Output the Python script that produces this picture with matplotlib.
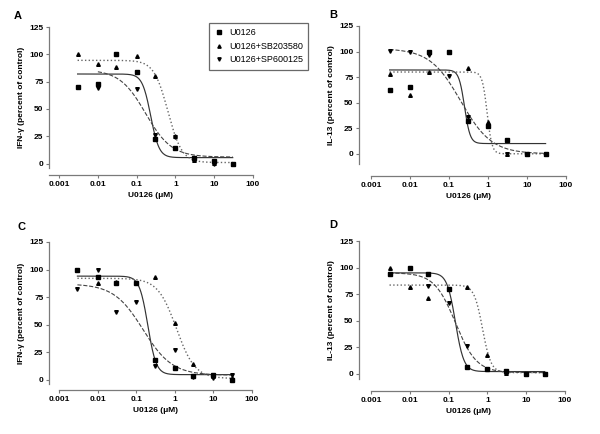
import numpy as np
import matplotlib
matplotlib.use('Agg')
import matplotlib.pyplot as plt
from matplotlib.lines import Line2D

plt.rcParams['font.family'] = ['Liberation Sans', 'DejaVu Sans']

# U0126 concentrations (uM)
conc = [0.003, 0.01, 0.03, 0.1, 0.3, 1, 3, 10, 30]
nan = np.nan

# panel A: IFN-gamma
a_u0126 = [70.5, 73, 100, 83.5, 22.5, 14.5, 5, 2, 0]
a_sb = [100, 91, 88, 98.5, 80.5, 25.5, 3, 1, 0]
a_sp = [nan, 69.5, nan, 68, 26, 24, 5, 0, 0]
# panel B: IL-13
b_u0126 = [62, 65.5, 100, 100, 32.5, 27, 13.5, 0, 0]
b_sb = [78, 57.5, 80, nan, 83.5, 31, 0, 0, 0]
b_sp = [100.5, 100, 96.5, 76.5, 35.5, 27, 0, 0, 0]
# panel C: IFN-gamma
c_u0126 = [100, 93.5, 88, 87.5, 17.5, 10.5, 3, 4.5, 0]
c_sb = [nan, 87.5, 89, nan, 93, 51, 14.5, 3, 1]
c_sp = [82, 100, 61, 70.5, 12, 27, 2, 1, 4]
# panel D: IL-13
d_u0126 = [93.5, 100, 93.5, 80, 6.5, 4.5, 3, 0, 0]
d_sb = [100, 81.5, 71, 80, 81.5, 17.5, 1, 0, 0]
d_sp = [94, nan, 83, 67, 26.5, 4, 0.5, 0, 0]

# fitted sigmoid curves: (start, top, bottom, EC50, Hill)
a_fits = [(0.003, 82, 5.5, 0.23, 4.0), (0.003, 94.5, 1, 0.64, 2.4), (0.01, 86, 6, 0.17, 1.3)]
b_fits = [(0.003, 82, 10, 0.25, 6.0), (0.003, 80, 0, 0.95, 7.0), (0.003, 103, 0, 0.2, 1.1)]
c_fits = [(0.003, 94, 4.5, 0.2, 4.0), (0.003, 92, 1, 1.1, 1.8), (0.003, 87, 4, 0.15, 1.15)]
d_fits = [(0.003, 95, 2, 0.15, 4.0), (0.003, 83.5, 1, 0.75, 4.0), (0.003, 95, 1, 0.15, 1.6)]

names = ['U0126', 'U0126+SB203580', 'U0126+SP600125']
markers = ['s', '^', 'v']
styles = [('-', '#333333', 0.85), (':', '#666666', 1.0), ('--', '#444444', 0.8)]

W, H = 600.0, 434.0


def make_axes(fig, left, right, top, bottom):
    return fig.add_axes([left / W, 1 - bottom / H, (right - left) / W, (bottom - top) / H])


def panel(ax, series, fits, ylabel, xmin, ymin, left_out, bottom_out):
    for (x0, top, bot, ec50, hill), (ls, col, lw) in zip(fits, styles):
        x = np.logspace(np.log10(x0), np.log10(30), 300)
        y = bot + (top - bot) / (1 + (x / ec50) ** hill)
        ax.plot(x, y, ls=ls, color=col, lw=lw)
    for vals, m in zip(series, markers):
        ax.plot(conc, vals, m, color='black', ms=2.6, ls='none')
    ax.set_xscale('log')
    ax.set_xlim(xmin, 100)
    ax.set_ylim(ymin, 125)
    ax.set_yticks([0, 25, 50, 75, 100, 125])
    ax.set_xticks([0.001, 0.01, 0.1, 1, 10, 100])
    ax.set_xticklabels(['0.001', '0.01', '0.1', '1', '10', '100'])
    ax.minorticks_off()
    for s in ['top', 'right']:
        ax.spines[s].set_visible(False)
    ax.spines['left'].set_position(('outward', left_out * 0.72))
    ax.spines['bottom'].set_position(('outward', bottom_out * 0.72))
    for s in ['left', 'bottom']:
        ax.spines[s].set_color('#7a7a7a')
        ax.spines[s].set_linewidth(0.9)
    ax.tick_params(length=2.5, width=0.8, color='#7a7a7a', labelsize=6, pad=1.5)
    for t in ax.get_xticklabels() + ax.get_yticklabels():
        t.set_fontweight('bold')
    ax.set_xlabel('U0126 (\u03bcM)', fontsize=6, fontweight='bold', labelpad=3)
    ax.set_ylabel(ylabel, fontsize=6, fontweight='bold', labelpad=3)
    ax.patch.set_alpha(0)


fig = plt.figure(figsize=(6, 4.34), dpi=100)

axA = make_axes(fig, 49, 253, 27, 168)
panel(axA, [a_u0126, a_sb, a_sp], a_fits, 'IFN-\u03b3 (percent of control)', 10 ** -3.26, -4, 0, 7)
axB = make_axes(fig, 371, 566, 26, 164)
panel(axB, [b_u0126, b_sb, b_sp], b_fits, 'IL-13 (percent of control)', 0.001, -10, 12, 12)
axC = make_axes(fig, 59, 252, 242, 384)
panel(axC, [c_u0126, c_sb, c_sp], c_fits, 'IFN-\u03b3 (percent of control)', 0.001, -4, 10, 6)
axD = make_axes(fig, 371, 565, 241, 379)
panel(axD, [d_u0126, d_sb, d_sp], d_fits, 'IL-13 (percent of control)', 0.001, -5, 12, 12)

for lab, px, py in [('A', 18, 16), ('B', 333, 15), ('C', 22, 227), ('D', 333, 225)]:
    fig.text(px / W, 1 - py / H, lab, fontsize=8, fontweight='bold', ha='center', va='center')

handles = [Line2D([], [], marker=m, color='black', ls='none', ms=2.4) for m in markers]
leg = fig.legend(handles, names, loc='upper left', bbox_to_anchor=(209 / W, 1 - 23 / H),
                 fontsize=6.5, frameon=True, fancybox=False, borderaxespad=0,
                 handletextpad=0.6, handlelength=1.0, borderpad=0.6, labelspacing=0.5)
leg.get_frame().set_edgecolor('#444444')
leg.get_frame().set_linewidth(0.9)

fig.savefig('out.png', dpi=100)
